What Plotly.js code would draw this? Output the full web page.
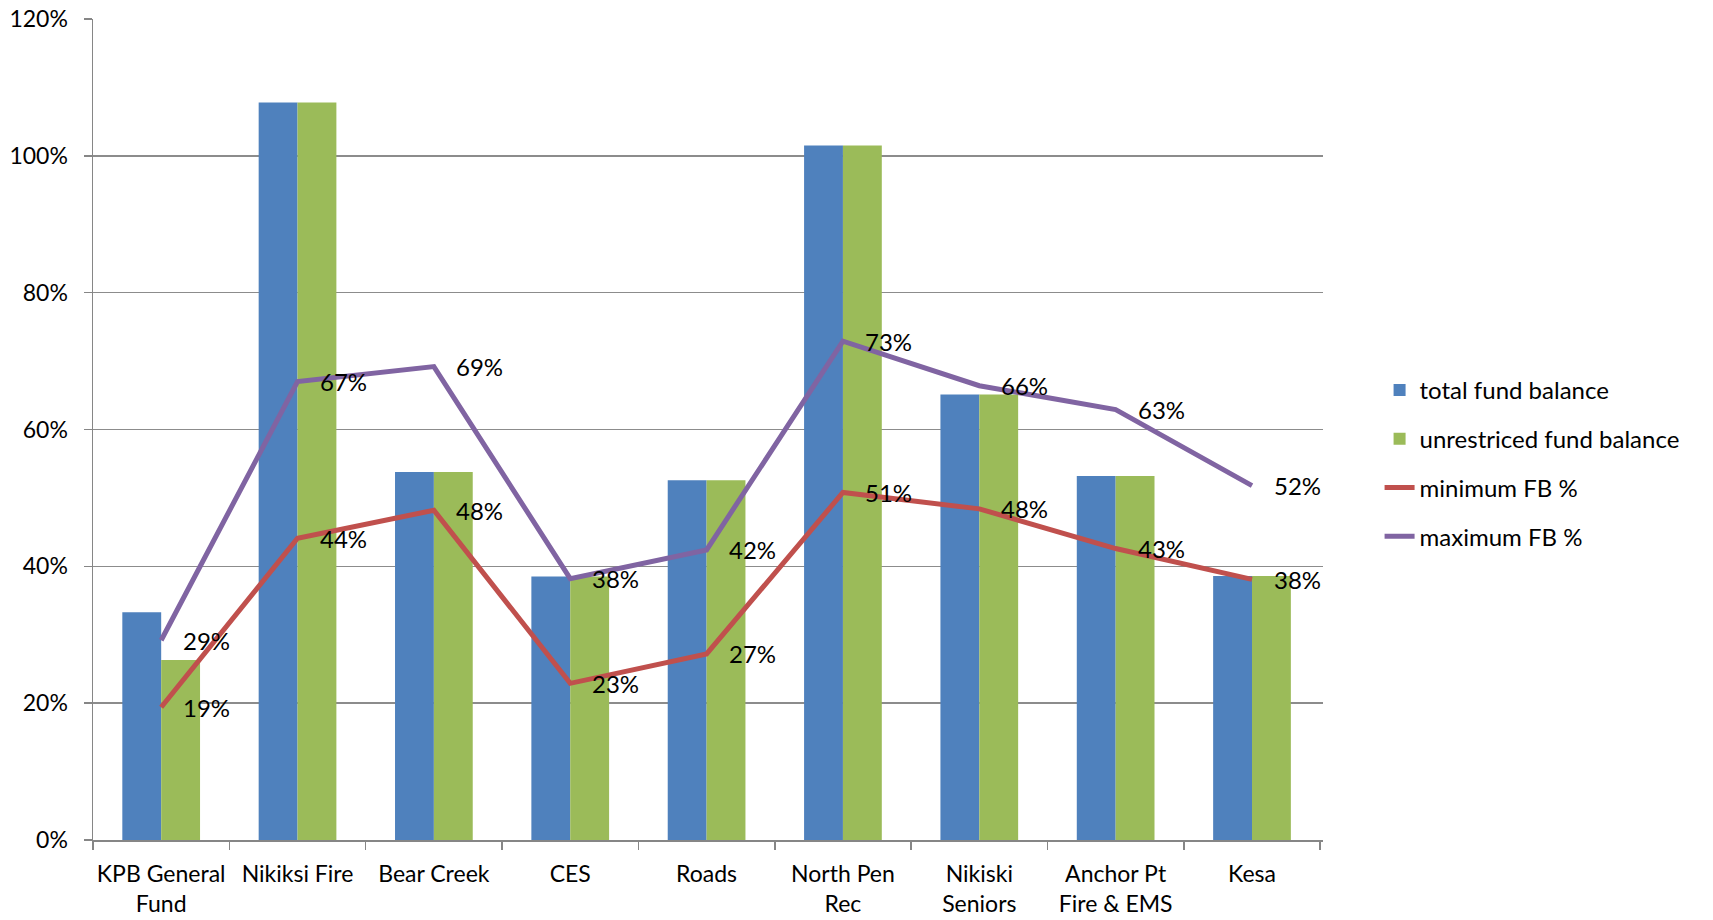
<!DOCTYPE html>
<html>
<head>
<meta charset="utf-8">
<script src="https://cdn.plot.ly/plotly-3.0.1.min.js"></script>
<style>
  html, body { margin: 0; padding: 0; background: #ffffff; }
  #chart { width: 1713px; height: 920px; }
</style>
</head>
<body>
<div id="chart"></div>
<script>
// ---- data (percent) ----
const categories = ["KPB General<br>Fund", "Nikiksi Fire", "Bear Creek", "CES", "Roads", "North Pen<br>Rec", "Nikiski<br>Seniors", "Anchor Pt<br>Fire & EMS", "Kesa"];
const totalFundBalance = [33.3, 107.8, 53.8, 38.5, 52.6, 101.5, 65.1, 53.2, 38.6];
const unrestrictedFundBalance = [26.3, 107.8, 53.8, 38.5, 52.6, 101.5, 65.1, 53.2, 38.6];
const minimumFB = [19.4, 44.1, 48.2, 22.9, 27.2, 50.8, 48.4, 42.6, 38.1];
const maximumFB = [29.2, 67.0, 69.2, 38.2, 42.4, 72.9, 66.4, 62.9, 51.8];
const yTicks = [0, 20, 40, 60, 80, 100, 120];

const FONT = "Lato, 'Open Sans', sans-serif";

const traces = [
  { type: "bar", name: "total fund balance", x: categories, y: totalFundBalance,
    marker: { color: "#4F81BD" }, legendgroup: "a", hoverinfo: "skip" },
  { type: "bar", name: "unrestriced fund balance", x: categories, y: unrestrictedFundBalance,
    marker: { color: "#9BBB59" }, legendgroup: "b", hoverinfo: "skip" },
  { type: "scatter", mode: "lines", name: "minimum FB %", x: categories, y: minimumFB,
    line: { color: "#C0504D", width: 5 }, legendgroup: "c", hoverinfo: "skip" },
  { type: "scatter", mode: "lines", name: "maximum FB %", x: categories, y: maximumFB,
    line: { color: "#8064A2", width: 5 }, legendgroup: "d", hoverinfo: "skip" }
];

const annotations = [];
[minimumFB, maximumFB].forEach(series => {
  series.forEach((v, i) => {
    annotations.push({
      x: categories[i], y: v, xref: "x", yref: "y",
      text: Math.round(v) + "%", showarrow: false,
      xanchor: "left", yanchor: "middle", xshift: 20,
      font: { family: FONT, size: 24, color: "#000000" }
    });
  });
});

const layout = {
  width: 1713, height: 920,
  margin: { l: 93, r: 390, t: 19, b: 80 },
  paper_bgcolor: "#ffffff", plot_bgcolor: "#ffffff",
  font: { family: FONT, size: 24, color: "#000000" },
  barmode: "group", bargap: 0.43, bargroupgap: 0,
  showlegend: true,
  legend: {
    x: 1.046, y: 0.575, xanchor: "left", yanchor: "top",
    font: { family: FONT, size: 24, color: "#000000" },
    tracegroupgap: 14.5, traceorder: "grouped",
    bgcolor: "rgba(0,0,0,0)"
  },
  xaxis: {
    type: "category",
    showline: true, linecolor: "#868686", linewidth: 1.5,
    ticks: "outside", ticklen: 8, tickcolor: "#868686", tickwidth: 1.5,
    tickson: "boundaries", showgrid: false, zeroline: false,
    tickangle: 0, automargin: false,
    ticklabelstandoff: 13,
    tickfont: { family: FONT, size: 23, color: "#000000" }
  },
  yaxis: {
    range: [0, 120], tickvals: yTicks, ticktext: yTicks.map(v => v + "%"),
    showline: true, linecolor: "#868686", linewidth: 1.5,
    ticks: "outside", ticklen: 8, tickcolor: "#868686", tickwidth: 1.5,
    showgrid: true, gridcolor: "#8c8c8c", gridwidth: 1.5, zeroline: false,
    ticklabelstandoff: 11,
    tickfont: { family: FONT, size: 23, color: "#000000" }
  },
  annotations: annotations
};

Plotly.newPlot("chart", traces, layout, { displayModeBar: false, staticPlot: true });
</script>
</body>
</html>
